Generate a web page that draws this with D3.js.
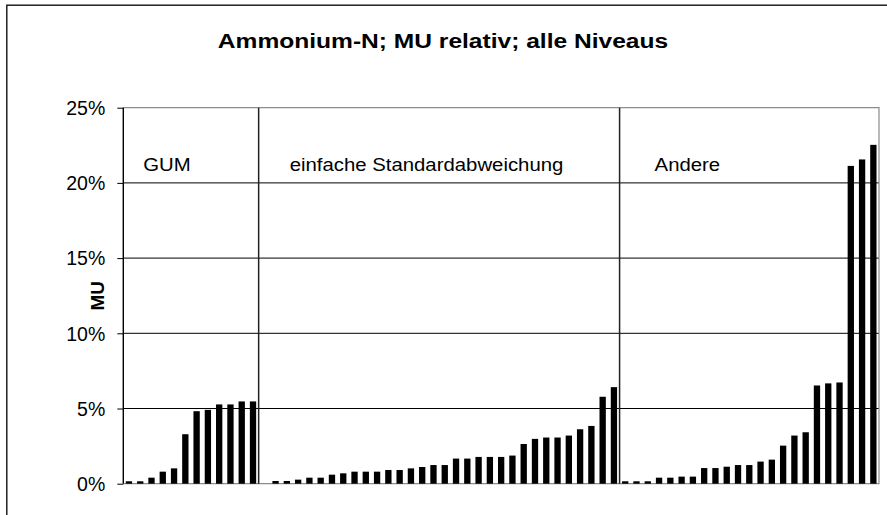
<!DOCTYPE html>
<html>
<head>
<meta charset="utf-8">
<script src="https://cdn.jsdelivr.net/npm/d3@7"></script>
<style>
    body { margin: 0; background: #fff; }
    text { font-family: "Liberation Sans", Arial, sans-serif; fill: #000; }
    .title { font-weight: bold; font-size: 21px; }
    .axis_label { font-weight: bold; font-size: 19px; }
    .tick_label { font-size: 19.5px; }
    .group_label { font-size: 18.5px; }
</style>
</head>
<body>
<svg id="chart" width="887" height="515"></svg>
<script>
// MU relativ (%) per lab, sorted, three groups
var gumValues = [0.16, 0.16, 0.4, 0.8, 1.02, 3.29, 4.82, 4.91, 5.27, 5.27, 5.47, 5.47];
var stdValues = [0.18, 0.18, 0.27, 0.4, 0.4, 0.6, 0.69, 0.8, 0.8, 0.8, 0.91, 0.91, 1.02, 1.11, 1.24, 1.24,
    1.67, 1.67, 1.78, 1.78, 1.78, 1.87, 2.64, 2.98, 3.07, 3.07, 3.2, 3.62, 3.84, 5.78, 6.42];
var otherValues = [0.16, 0.16, 0.16, 0.4, 0.4, 0.47, 0.47, 1.04, 1.04, 1.13, 1.24, 1.24, 1.47, 1.6,
    2.53, 3.2, 3.42, 6.53, 6.67, 6.73, 21.13, 21.56, 22.53];
var groupNames = ["GUM", "einfache Standardabweichung", "Andere"];
var yTicks = [0, 5, 10, 15, 20, 25];

var svg1 = d3.select("#chart");
var plot = { left: 123.3, right: 879, top: 107.7, bottom: 483.7 };

// one slot per bar, with an empty slot after the GUM group
var groups = [
    { name: groupNames[0], values: gumValues, gapAfter: 1 },
    { name: groupNames[1], values: stdValues, gapAfter: 0 },
    { name: groupNames[2], values: otherValues, gapAfter: 0 }
];
var slots = [];
groups.forEach(function (g) {
    g.start = slots.length;
    g.end = g.start + g.values.length;
    g.values.forEach(function (v) { slots.push({ value: v }); });
    for (var i = 0; i < g.gapAfter; i++) slots.push({ value: null });
});

var pad = 0.44;
var x = d3.scaleBand()
    .domain(d3.range(slots.length))
    .range([plot.left, plot.right])
    .paddingInner(pad)
    .paddingOuter(pad / 2);
var step = x.step();
function slotEdge(i) { return plot.left + i * step; }

var y = d3.scaleLinear()
    .domain([0, 25])
    .range([plot.bottom, plot.top]);

// outer frame
svg1.append("rect")
    .attr("x", 6.8).attr("y", 5.2)
    .attr("width", 920).attr("height", 560)
    .style("fill", "none").style("stroke", "#111").style("stroke-width", 1.4);

// gridlines
svg1.selectAll(".grid")
    .data(yTicks.filter(d => d > 0 && d < 25))
    .enter()
    .append("line")
    .attr("x1", plot.left).attr("x2", plot.right)
    .attr("y1", d => y(d)).attr("y2", d => y(d))
    .style("stroke", "#000").style("stroke-width", 1);

// plot border (grey) top, right, bottom
svg1.append("path")
    .attr("d", "M" + plot.left + "," + y(25) + "H" + plot.right + "V" + y(0) + "H" + plot.left)
    .style("fill", "none").style("stroke", "#8c8c8c").style("stroke-width", 1.2);

// group separators, at the right edge of the first two groups
svg1.selectAll(".sep")
    .data(groups.slice(0, 2))
    .enter()
    .append("line")
    .attr("x1", d => slotEdge(d.end))
    .attr("x2", d => slotEdge(d.end))
    .attr("y1", y(25)).attr("y2", y(0))
    .style("stroke", "#222").style("stroke-width", 1.5);

// bars
svg1.selectAll(".bar")
    .data(slots.map((d, i) => ({ i: i, value: d.value })).filter(d => d.value !== null))
    .enter()
    .append("rect")
    .attr("x", d => x(d.i))
    .attr("width", x.bandwidth())
    .attr("y", d => y(d.value))
    .attr("height", d => y(0) - y(d.value))
    .style("fill", "#000");

// Y axis
var yAxis = svg1.append("g")
    .attr("transform", "translate(" + plot.left + ",0)")
    .call(d3.axisLeft(y).tickValues(yTicks).tickSize(6).tickFormat(d => d + "%"));
yAxis.select(".domain").style("stroke", "#000").style("stroke-width", 1.4)
    .attr("d", "M0," + y(25) + "V" + y(0));
yAxis.selectAll(".tick line").style("stroke", "#000");
yAxis.selectAll(".tick text")
    .attr("class", "tick_label")
    .attr("x", -18)
    .attr("dy", "0.35em")
    .style("font-family", null).style("font-size", null);

// group labels (slightly stretched like the original)
var labelOffsets = [20, 31, 35];
groups.forEach(function (g, i) {
    var left = i === 0 ? plot.left : slotEdge(groups[i - 1].end);
    svg1.append("g")
        .attr("transform", "translate(" + (left + labelOffsets[i]) + ",170.7) scale(1.1,1)")
        .append("text")
        .attr("class", "group_label")
        .text(g.name);
});

// title
svg1.append("g")
    .attr("transform", "translate(443,47.5) scale(1.17,1)")
    .append("text")
    .attr("class", "title")
    .style("text-anchor", "middle")
    .text("Ammonium-N; MU relativ; alle Niveaus");

// Y axis title
svg1.append("text")
    .attr("class", "axis_label")
    .attr("transform", "translate(104," + ((plot.top + plot.bottom) / 2) + ") rotate(-90)")
    .style("text-anchor", "middle")
    .text("MU");
</script>
</body>
</html>
